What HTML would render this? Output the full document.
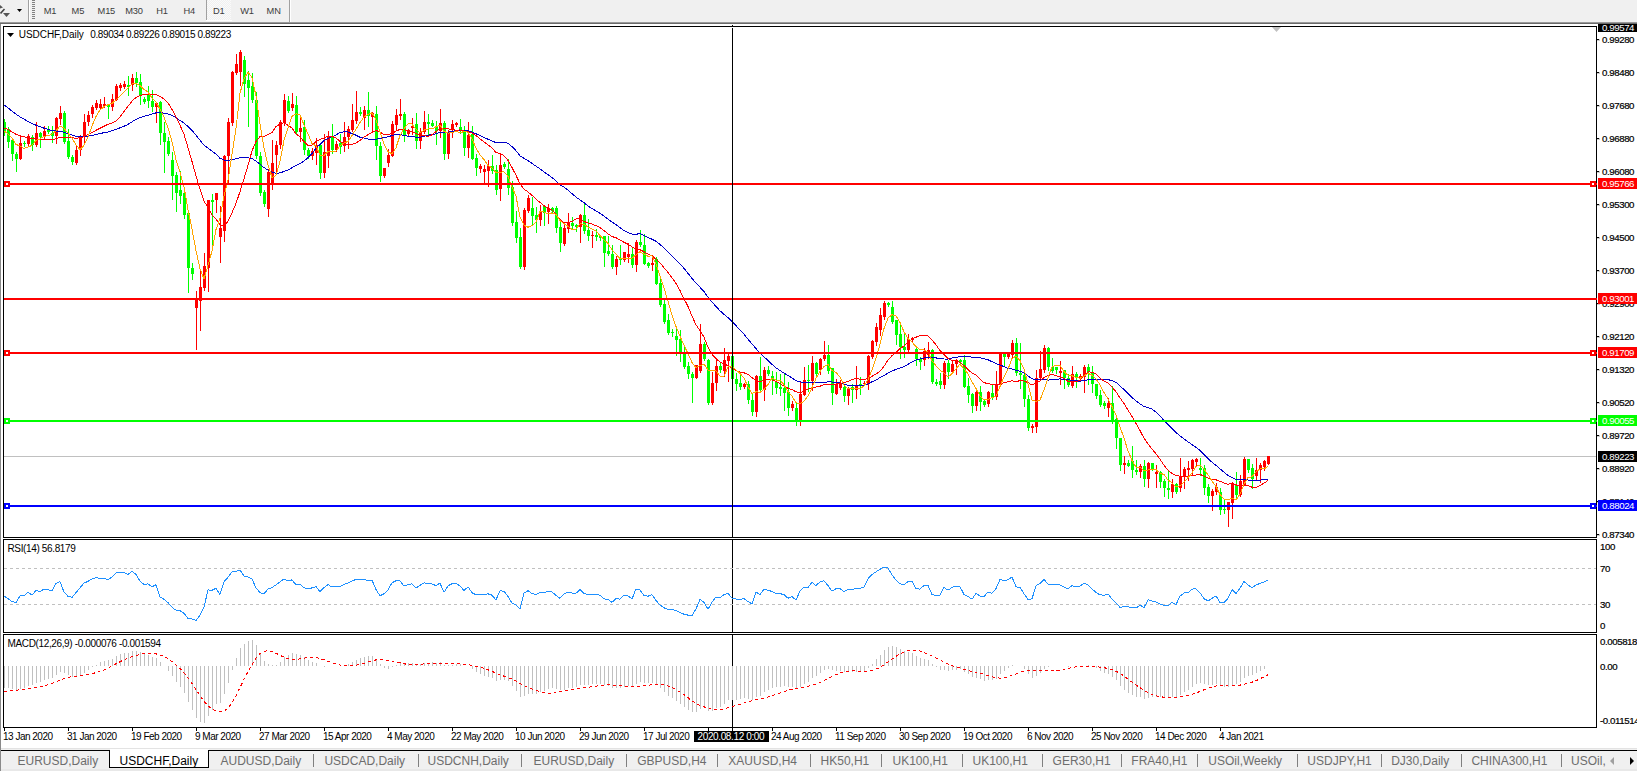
<!DOCTYPE html><html><head><meta charset="utf-8"><style>
html,body{margin:0;padding:0}
body{width:1637px;height:771px;overflow:hidden;background:#fff;position:relative;font-family:"Liberation Sans", sans-serif}
svg{position:absolute;left:0;top:0}
</style></head><body>
<svg width="1637" height="771" viewBox="0 0 1637 771" shape-rendering="crispEdges" font-family='"Liberation Sans", sans-serif'>
<defs>
<clipPath id="cm"><rect x="4" y="27" width="1592" height="510"/></clipPath>
<clipPath id="cr"><rect x="4" y="540" width="1592" height="92"/></clipPath>
<clipPath id="cd"><rect x="4" y="635" width="1592" height="92"/></clipPath>
<clipPath id="ctop"><rect x="0" y="24" width="1637" height="747"/></clipPath>
<pattern id="dots" width="2" height="2" patternUnits="userSpaceOnUse"><rect width="2" height="2" fill="#f0f0f0"/><rect width="1" height="1" fill="#fafafa"/><rect x="1" y="1" width="1" height="1" fill="#fafafa"/></pattern>
</defs>

<rect x="0" y="0" width="1637" height="22" fill="#f0f0f0"/>
<rect x="0" y="22" width="1637" height="1" fill="#9a9a9a"/><rect x="0" y="23" width="1637" height="1" fill="#6a6a6a"/>
<g shape-rendering="auto"><path d="M0 5 L3 7.5 L0 8.5Z" fill="#555"/><path d="M0.5 13.5 L4.5 9" stroke="#444" stroke-width="1.6" fill="none"/><path d="M3 13 L10 13 L6.5 17Z" fill="#555"/><path d="M17 9 L22 9 L19.5 12Z" fill="#000"/></g>
<rect x="28" y="0" width="1" height="22" fill="#a0a0a0"/><rect x="29" y="0" width="1" height="22" fill="#ffffff"/>
<rect x="32" y="0" width="3" height="1" fill="#808080"/>
<rect x="32" y="2" width="3" height="1" fill="#808080"/>
<rect x="32" y="4" width="3" height="1" fill="#808080"/>
<rect x="32" y="6" width="3" height="1" fill="#808080"/>
<rect x="32" y="8" width="3" height="1" fill="#808080"/>
<rect x="32" y="10" width="3" height="1" fill="#808080"/>
<rect x="32" y="12" width="3" height="1" fill="#808080"/>
<rect x="32" y="14" width="3" height="1" fill="#808080"/>
<rect x="32" y="16" width="3" height="1" fill="#808080"/>
<rect x="32" y="18" width="3" height="1" fill="#808080"/>
<rect x="206" y="0" width="25" height="20" fill="url(#dots)"/><rect x="206" y="0" width="1" height="20" fill="#a0a0a0"/><rect x="206" y="20" width="26" height="1" fill="#fff"/>
<rect x="289" y="0" width="1" height="22" fill="#a0a0a0"/><rect x="290" y="0" width="1" height="22" fill="#fff"/>
<g font-size="9.3" fill="#3c3c3c" letter-spacing="-0.2" shape-rendering="auto">
<text x="43.8" y="14">M1</text>
<text x="71.6" y="14">M5</text>
<text x="97.6" y="14">M15</text>
<text x="125.3" y="14">M30</text>
<text x="156.20000000000002" y="14">H1</text>
<text x="183.60000000000002" y="14">H4</text>
<text x="212.9" y="14">D1</text>
<text x="240.3" y="14">W1</text>
<text x="266.6" y="14">MN</text>
</g>
<rect x="0" y="24" width="1" height="724" fill="#8a8a8a"/>
<rect x="3" y="26" width="1594" height="1" fill="#000"/>
<rect x="3" y="537" width="1594" height="1" fill="#000"/>
<rect x="3" y="26" width="1" height="512" fill="#000"/>
<rect x="1596" y="26" width="1" height="512" fill="#000"/>
<rect x="3" y="539" width="1594" height="1" fill="#000"/>
<rect x="3" y="632" width="1594" height="1" fill="#000"/>
<rect x="3" y="539" width="1" height="94" fill="#000"/>
<rect x="1596" y="539" width="1" height="94" fill="#000"/>
<rect x="3" y="634" width="1594" height="1" fill="#000"/>
<rect x="3" y="727" width="1594" height="1" fill="#000"/>
<rect x="3" y="634" width="1" height="94" fill="#000"/>
<rect x="1596" y="634" width="1" height="94" fill="#000"/>
<g clip-path="url(#cm)">
<rect x="4" y="456" width="1592" height="1" fill="#c0c0c0"/>
<path d="M20.5 136V160M28.5 134V146M36.5 122V147M44.5 126V140M56.5 117V144M60.5 106V125M76.5 146V165M80.5 135V156M84.5 114V145M88.5 111V126M92.5 105V118M96.5 100V110M100.5 99V110M104.5 97V108M112.5 94V111M116.5 84V101M120.5 83V91M124.5 81V89M132.5 74V91M156.5 102V123M196.5 291V350M200.5 269V331M204.5 253V291M208.5 200V292M216.5 193V213M220.5 206V263M224.5 155V242M228.5 118V184M232.5 71V126M236.5 54V75M240.5 50V86M268.5 169V217M272.5 140V190M276.5 141V174M280.5 120V149M284.5 94V126M292.5 93V111M300.5 117V142M312.5 148V160M316.5 138V165M324.5 134V178M328.5 131V168M336.5 141V152M344.5 122V152M348.5 126V149M352.5 104V132M356.5 91V124M364.5 106V130M372.5 112V131M384.5 168V178M388.5 149V167M392.5 121V157M396.5 109V130M400.5 99V120M408.5 129V136M412.5 118V135M420.5 128V149M424.5 111V134M440.5 109V138M448.5 130V159M452.5 120V138M456.5 122V127M468.5 122V158M480.5 164V173M484.5 165V184M488.5 160V187M500.5 153V201M524.5 208V270M528.5 195V213M540.5 205V226M548.5 204V224M564.5 224V246M568.5 213V233M580.5 214V243M592.5 231V248M616.5 256V275M624.5 252V262M628.5 243V263M636.5 240V272M652.5 255V271M696.5 365V379M700.5 324V373M712.5 372V405M716.5 359V391M724.5 348V377M728.5 354V382M744.5 383V389M756.5 375V417M764.5 367V401M792.5 401V411M800.5 382V426M804.5 367V396M812.5 356V391M820.5 358V375M824.5 341V361M836.5 379V395M840.5 380V390M848.5 387V405M856.5 366V399M864.5 381V386M868.5 355V390M872.5 340V359M876.5 323V346M880.5 308V336M884.5 301V320M908.5 334V352M912.5 337V342M924.5 348V366M928.5 342V359M944.5 361V389M952.5 360V374M956.5 359V375M976.5 390V411M988.5 391V407M996.5 371V400M1000.5 353V386M1008.5 354V359M1012.5 340V358M1032.5 424V433M1036.5 370V433M1040.5 351V381M1044.5 345V373M1060.5 361V385M1072.5 366V388M1080.5 374V381M1084.5 365V393M1108.5 398V417M1124.5 456V474M1140.5 464V478M1148.5 462V488M1156.5 465V488M1172.5 479V498M1180.5 458V492M1184.5 467V489M1188.5 461V481M1192.5 459V476M1196.5 458V467M1212.5 489V511M1216.5 483V495M1228.5 502V527M1232.5 482V519M1240.5 475V497M1244.5 457V486M1256.5 458V481M1260.5 463V483M1264.5 460V471M1268.5 456V465" stroke="#ff0000" stroke-width="1" fill="none"/><path d="M19 143h3v16h-3zM27 136h3v8h-3zM35 133h3v12h-3zM43 131h3v6h-3zM55 118h3v18h-3zM59 113h3v6h-3zM75 150h3v13h-3zM79 136h3v14h-3zM83 122h3v14h-3zM87 115h3v7h-3zM91 107h3v7h-3zM95 103h3v5h-3zM99 104h3v4h-3zM103 104h3v2h-3zM111 99h3v8h-3zM115 86h3v14h-3zM119 85h3v3h-3zM123 84h3v3h-3zM131 78h3v7h-3zM155 103h3v4h-3zM195 300h3v8h-3zM199 287h3v14h-3zM203 266h3v22h-3zM207 200h3v68h-3zM215 193h3v7h-3zM219 228h3v9h-3zM223 156h3v75h-3zM227 122h3v34h-3zM231 72h3v51h-3zM235 64h3v9h-3zM239 52h3v20h-3zM267 172h3v37h-3zM271 163h3v22h-3zM275 145h3v10h-3zM279 122h3v23h-3zM283 100h3v23h-3zM291 104h3v4h-3zM299 128h3v4h-3zM311 151h3v5h-3zM315 145h3v8h-3zM323 152h3v21h-3zM327 136h3v20h-3zM335 144h3v6h-3zM343 137h3v9h-3zM347 129h3v8h-3zM351 120h3v10h-3zM355 112h3v9h-3zM363 110h3v8h-3zM371 113h3v4h-3zM383 168h3v8h-3zM387 155h3v8h-3zM391 124h3v32h-3zM395 115h3v10h-3zM399 114h3v2h-3zM407 130h3v4h-3zM411 126h3v2h-3zM419 132h3v9h-3zM423 122h3v10h-3zM439 123h3v8h-3zM447 132h3v22h-3zM451 124h3v5h-3zM455 123h3v2h-3zM467 135h3v13h-3zM479 166h3v3h-3zM483 169h3v3h-3zM487 166h3v5h-3zM499 165h3v24h-3zM523 210h3v57h-3zM527 198h3v13h-3zM539 212h3v8h-3zM547 208h3v4h-3zM563 228h3v16h-3zM567 222h3v7h-3zM579 215h3v12h-3zM591 235h3v1h-3zM615 259h3v8h-3zM623 252h3v8h-3zM627 254h3v3h-3zM635 242h3v23h-3zM651 263h3v2h-3zM695 365h3v13h-3zM699 344h3v27h-3zM711 383h3v20h-3zM715 366h3v17h-3zM723 360h3v11h-3zM727 356h3v5h-3zM743 384h3v3h-3zM755 376h3v36h-3zM763 370h3v20h-3zM791 404h3v4h-3zM799 394h3v26h-3zM803 380h3v15h-3zM811 363h3v18h-3zM819 359h3v11h-3zM823 355h3v4h-3zM835 384h3v10h-3zM839 383h3v5h-3zM847 388h3v8h-3zM855 385h3v5h-3zM863 383h3v1h-3zM867 356h3v28h-3zM871 341h3v16h-3zM875 327h3v15h-3zM879 315h3v15h-3zM883 303h3v14h-3zM907 339h3v11h-3zM911 338h3v2h-3zM923 351h3v9h-3zM927 350h3v5h-3zM943 363h3v22h-3zM951 364h3v8h-3zM955 360h3v4h-3zM975 392h3v14h-3zM987 392h3v12h-3zM995 385h3v12h-3zM999 354h3v31h-3zM1007 354h3v3h-3zM1011 343h3v12h-3zM1031 426h3v2h-3zM1035 378h3v49h-3zM1039 369h3v9h-3zM1043 348h3v22h-3zM1059 371h3v2h-3zM1071 374h3v12h-3zM1079 376h3v2h-3zM1083 367h3v10h-3zM1107 403h3v5h-3zM1123 463h3v2h-3zM1139 466h3v6h-3zM1147 463h3v16h-3zM1155 472h3v2h-3zM1171 484h3v8h-3zM1179 476h3v12h-3zM1183 469h3v7h-3zM1187 468h3v2h-3zM1191 460h3v9h-3zM1195 459h3v3h-3zM1211 491h3v5h-3zM1215 487h3v5h-3zM1227 502h3v8h-3zM1231 483h3v20h-3zM1239 481h3v14h-3zM1243 459h3v26h-3zM1255 470h3v6h-3zM1259 465h3v5h-3zM1263 461h3v6h-3zM1267 456h3v8h-3z" fill="#ff0000"/><path d="M4.5 119V136M8.5 127V148M12.5 139V161M16.5 152V172M24.5 141V147M32.5 135V151M40.5 132V148M48.5 126V134M52.5 126V143M64.5 111V144M68.5 129V159M72.5 155V165M108.5 104V119M128.5 76V96M136.5 72V87M140.5 74V105M144.5 97V104M148.5 86V108M152.5 90V112M160.5 101V145M164.5 122V173M168.5 137V156M172.5 152V200M176.5 172V212M180.5 171V204M184.5 188V219M188.5 213V293M192.5 263V280M212.5 194V249M244.5 56V97M248.5 71V127M252.5 73V103M256.5 92V159M260.5 152V196M264.5 190V207M288.5 96V113M296.5 96V134M304.5 120V155M308.5 148V159M320.5 144V179M332.5 124V154M340.5 134V154M360.5 107V116M368.5 92V127M376.5 106V160M380.5 142V182M404.5 112V142M416.5 113V149M428.5 114V137M432.5 120V127M436.5 121V145M444.5 121V160M460.5 119V134M464.5 126V156M472.5 126V160M476.5 154V176M492.5 155V174M496.5 165V195M504.5 162V169M508.5 159V195M512.5 181V226M516.5 211V243M520.5 228V269M532.5 197V225M536.5 207V233M544.5 205V226M552.5 207V213M556.5 206V233M560.5 222V252M572.5 217V230M576.5 224V232M584.5 203V234M588.5 219V241M596.5 229V241M600.5 236V241M604.5 236V267M608.5 236V256M612.5 245V269M620.5 245V265M632.5 248V268M640.5 230V247M644.5 234V265M648.5 262V268M656.5 257V285M660.5 278V307M664.5 300V324M668.5 314V335M672.5 329V337M676.5 329V356M680.5 330V362M684.5 345V369M688.5 362V379M692.5 372V403M704.5 342V361M708.5 359V405M720.5 362V373M732.5 355V381M736.5 373V391M740.5 373V390M748.5 381V404M752.5 394V416M760.5 357V391M768.5 366V376M772.5 371V395M776.5 372V394M780.5 374V396M784.5 374V411M788.5 382V416M796.5 403V426M808.5 365V392M816.5 362V376M828.5 345V374M832.5 368V405M844.5 384V402M852.5 384V403M860.5 377V395M888.5 302V307M892.5 301V324M896.5 320V345M900.5 324V359M904.5 332V358M916.5 348V366M920.5 357V370M932.5 349V384M936.5 379V386M940.5 373V389M948.5 360V379M960.5 359V364M964.5 355V388M968.5 378V403M972.5 393V413M980.5 386V411M984.5 399V407M992.5 385V400M1004.5 353V366M1016.5 338V376M1020.5 343V389M1024.5 370V407M1028.5 395V431M1048.5 347V371M1052.5 358V373M1056.5 367V374M1064.5 370V389M1068.5 374V387M1076.5 372V388M1088.5 364V385M1092.5 366V393M1096.5 384V399M1100.5 390V407M1104.5 401V409M1112.5 386V424M1116.5 418V449M1120.5 438V471M1128.5 460V467M1132.5 446V478M1136.5 460V475M1144.5 460V487M1152.5 463V471M1160.5 471V488M1164.5 479V497M1168.5 470V499M1176.5 483V494M1200.5 458V476M1204.5 465V495M1208.5 484V503M1220.5 488V515M1224.5 500V514M1236.5 472V500M1248.5 459V473M1252.5 464V489" stroke="#00ff00" stroke-width="1" fill="none"/><path d="M3 122h3v10h-3zM7 129h3v13h-3zM11 140h3v14h-3zM15 154h3v5h-3zM23 143h3v1h-3zM31 137h3v8h-3zM39 133h3v4h-3zM47 130h3v2h-3zM51 133h3v3h-3zM63 113h3v29h-3zM67 141h3v16h-3zM71 157h3v5h-3zM107 104h3v3h-3zM127 85h3v2h-3zM135 78h3v5h-3zM139 82h3v14h-3zM143 99h3v3h-3zM147 94h3v7h-3zM151 101h3v6h-3zM159 102h3v31h-3zM163 133h3v9h-3zM167 141h3v13h-3zM171 160h3v16h-3zM175 175h3v18h-3zM179 190h3v6h-3zM183 193h3v22h-3zM187 213h3v55h-3zM191 268h3v6h-3zM211 200h3v2h-3zM243 60h3v24h-3zM247 80h3v8h-3zM251 86h3v14h-3zM255 100h3v56h-3zM259 156h3v37h-3zM263 192h3v12h-3zM287 101h3v10h-3zM295 105h3v27h-3zM303 127h3v23h-3zM307 150h3v6h-3zM319 145h3v28h-3zM331 136h3v14h-3zM339 143h3v4h-3zM359 112h3v2h-3zM367 110h3v6h-3zM375 114h3v32h-3zM379 146h3v30h-3zM403 114h3v21h-3zM415 124h3v17h-3zM427 122h3v2h-3zM431 123h3v3h-3zM435 126h3v5h-3zM443 123h3v31h-3zM459 127h3v4h-3zM463 131h3v17h-3zM471 134h3v25h-3zM475 158h3v10h-3zM491 166h3v5h-3zM495 170h3v20h-3zM503 164h3v3h-3zM507 169h3v19h-3zM511 187h3v36h-3zM515 222h3v16h-3zM519 237h3v30h-3zM531 208h3v8h-3zM535 215h3v5h-3zM543 206h3v7h-3zM551 208h3v3h-3zM555 208h3v20h-3zM559 227h3v16h-3zM571 223h3v3h-3zM575 225h3v2h-3zM583 215h3v16h-3zM587 230h3v6h-3zM595 235h3v2h-3zM599 236h3v2h-3zM603 236h3v17h-3zM607 251h3v3h-3zM611 254h3v13h-3zM619 259h3v1h-3zM631 254h3v11h-3zM639 242h3v3h-3zM643 245h3v19h-3zM647 263h3v3h-3zM655 259h3v25h-3zM659 283h3v22h-3zM663 304h3v18h-3zM667 320h3v13h-3zM671 332h3v1h-3zM675 336h3v4h-3zM679 339h3v15h-3zM683 354h3v13h-3zM687 366h3v8h-3zM691 374h3v4h-3zM703 344h3v15h-3zM707 360h3v43h-3zM719 366h3v4h-3zM731 356h3v23h-3zM735 379h3v5h-3zM739 383h3v4h-3zM747 384h3v16h-3zM751 400h3v12h-3zM759 376h3v14h-3zM767 370h3v4h-3zM771 376h3v4h-3zM775 382h3v6h-3zM779 387h3v2h-3zM783 388h3v5h-3zM787 392h3v16h-3zM795 408h3v12h-3zM807 380h3v1h-3zM815 363h3v11h-3zM827 355h3v16h-3zM831 368h3v25h-3zM843 387h3v9h-3zM851 387h3v3h-3zM859 384h3v1h-3zM887 303h3v2h-3zM891 307h3v15h-3zM895 320h3v15h-3zM899 334h3v13h-3zM903 347h3v3h-3zM915 349h3v10h-3zM919 359h3v3h-3zM931 350h3v32h-3zM935 382h3v2h-3zM939 381h3v4h-3zM947 363h3v9h-3zM959 360h3v2h-3zM963 360h3v27h-3zM967 386h3v9h-3zM971 394h3v12h-3zM979 392h3v10h-3zM983 401h3v4h-3zM991 393h3v4h-3zM1003 354h3v3h-3zM1015 343h3v30h-3zM1019 373h3v2h-3zM1023 375h3v24h-3zM1027 399h3v29h-3zM1047 348h3v19h-3zM1051 367h3v4h-3zM1055 367h3v3h-3zM1063 370h3v8h-3zM1067 378h3v7h-3zM1075 374h3v4h-3zM1087 367h3v5h-3zM1091 372h3v12h-3zM1095 384h3v12h-3zM1099 395h3v10h-3zM1103 403h3v3h-3zM1111 403h3v19h-3zM1115 419h3v19h-3zM1119 438h3v27h-3zM1127 463h3v3h-3zM1131 461h3v9h-3zM1135 470h3v2h-3zM1143 466h3v13h-3zM1151 463h3v6h-3zM1159 472h3v10h-3zM1163 481h3v7h-3zM1167 488h3v2h-3zM1175 484h3v8h-3zM1199 468h3v2h-3zM1203 468h3v20h-3zM1207 487h3v9h-3zM1219 492h3v18h-3zM1223 509h3v1h-3zM1235 485h3v10h-3zM1247 459h3v11h-3zM1251 468h3v11h-3z" fill="#00ff00"/>
<polyline points="4,105.0 8,107.8 12,111.1 16,114.2 20,116.9 24,119.2 28,121.4 32,123.4 36,125.2 40,126.7 44,128.2 48,129.3 52,130.7 56,131.0 60,131.3 64,132.2 68,133.8 72,135.1 76,136.3 80,136.5 84,136.6 88,136.0 92,135.4 96,134.4 100,133.7 104,132.6 108,132.0 112,130.8 116,129.4 120,127.8 124,126.2 128,124.4 132,121.8 136,119.3 140,117.7 144,116.3 148,115.2 152,113.9 156,112.9 160,112.8 164,113.1 168,113.9 172,115.2 176,117.7 180,120.5 184,122.9 188,126.6 192,130.3 196,135.3 200,140.3 204,145.2 208,148.0 212,151.2 216,154.2 220,158.3 224,160.0 228,160.5 232,159.6 236,158.9 240,157.8 244,157.8 248,157.8 252,158.6 256,161.0 260,164.2 264,167.6 268,170.0 272,171.9 276,173.3 280,172.9 284,171.5 288,170.1 292,167.7 296,165.6 300,163.4 304,161.2 308,157.5 312,153.4 316,148.2 320,144.4 324,140.6 328,138.5 332,136.7 336,135.1 340,132.4 344,131.8 348,132.0 352,133.6 356,135.2 360,137.3 364,138.1 368,139.1 372,139.5 376,139.2 380,138.6 384,137.4 388,136.8 392,135.5 396,134.5 400,134.3 404,135.5 408,136.1 412,136.8 416,137.1 420,137.3 424,136.3 428,135.3 432,134.4 436,133.9 440,132.3 444,132.3 448,132.2 452,131.3 456,130.6 460,130.1 464,130.4 468,130.6 472,131.9 476,133.8 480,135.5 484,137.5 488,139.2 492,141.1 496,142.6 500,142.2 504,142.2 508,143.3 512,146.6 516,150.7 520,155.8 524,158.3 528,160.5 532,163.5 536,166.2 540,168.8 544,171.9 548,174.7 552,177.5 556,180.8 560,184.8 564,187.2 568,190.2 572,193.6 576,197.1 580,199.9 584,202.7 588,206.1 592,208.6 596,210.9 600,213.3 604,216.1 608,219.1 612,222.2 616,224.5 620,227.7 624,230.5 628,232.7 632,234.1 636,234.3 640,233.5 644,235.3 648,237.6 652,239.2 656,241.3 660,244.4 664,248.0 668,252.2 672,256.2 676,260.0 680,263.7 684,268.3 688,273.4 692,278.4 696,283.0 700,287.3 704,291.6 708,297.2 712,302.1 716,306.4 720,310.8 724,314.4 728,317.7 732,321.5 736,325.7 740,329.9 744,334.3 748,339.1 752,344.0 756,348.5 760,353.3 764,356.9 768,360.5 772,364.4 776,367.8 780,370.6 784,373.0 788,375.5 792,377.9 796,380.6 800,381.9 804,382.3 808,382.6 812,382.1 816,382.4 820,382.8 824,382.7 828,381.7 832,382.0 836,382.6 840,383.0 844,384.2 848,385.3 852,385.6 856,385.7 860,385.6 864,385.5 868,384.1 872,381.7 876,380.1 880,377.6 884,375.4 888,373.1 892,371.1 896,369.4 900,368.0 904,366.6 908,364.3 912,362.1 916,360.1 920,359.0 924,358.0 928,357.0 932,357.6 936,357.9 940,358.8 944,359.0 948,359.1 952,358.1 956,357.3 960,356.6 964,356.3 968,356.5 972,357.1 976,357.3 980,357.9 984,358.6 988,359.8 992,361.7 996,363.6 1000,364.9 1004,366.7 1008,368.3 1012,369.0 1016,370.3 1020,371.2 1024,372.9 1028,375.9 1032,378.8 1036,379.4 1040,379.6 1044,379.6 1048,380.1 1052,379.8 1056,379.3 1060,378.9 1064,379.4 1068,379.8 1072,380.2 1076,380.7 1080,381.2 1084,380.5 1088,379.8 1092,379.0 1096,379.2 1100,379.3 1104,379.3 1108,379.7 1112,380.5 1116,382.3 1120,386.0 1124,389.5 1128,393.3 1132,397.5 1136,400.8 1140,403.8 1144,406.5 1148,407.6 1152,409.1 1156,412.2 1160,415.9 1164,420.6 1168,424.7 1172,428.4 1176,432.5 1180,436.0 1184,439.0 1188,441.8 1192,444.6 1196,447.3 1200,450.5 1204,454.5 1208,458.7 1212,462.2 1216,465.3 1220,468.8 1224,472.2 1228,475.5 1232,477.6 1236,479.4 1240,480.0 1244,479.9 1248,480.0 1252,480.3 1256,480.2 1260,480.2 1264,479.6 1268,479.4" fill="none" stroke="#0000c8" stroke-width="1"/><polyline points="4,128.0 8,129.4 12,132.1 16,134.3 20,135.9 24,136.8 28,137.7 32,138.4 36,139.0 40,139.1 44,139.4 48,139.2 52,140.0 56,138.7 60,137.4 64,137.4 68,137.6 72,137.8 76,138.3 80,137.7 84,136.7 88,134.6 92,132.7 96,130.3 100,128.3 104,126.3 108,124.2 112,122.9 116,120.9 120,116.9 124,111.6 128,106.3 132,101.2 136,97.4 140,95.5 144,94.6 148,94.2 152,94.5 156,94.5 160,96.5 164,99.0 168,103.0 172,109.4 176,117.1 180,125.1 184,134.2 188,147.8 192,161.4 196,176.0 200,189.2 204,201.0 208,207.6 212,214.7 216,219.0 220,225.1 224,225.3 228,221.4 232,212.8 236,203.4 240,191.7 244,178.6 248,165.3 252,151.0 256,141.6 260,136.4 264,136.7 268,134.6 272,132.4 276,126.5 280,124.1 284,122.5 288,125.3 292,128.1 296,133.9 300,137.0 304,141.4 308,145.4 312,145.1 316,141.6 320,139.4 324,138.0 328,136.1 332,136.4 336,138.0 340,141.4 344,143.2 348,145.0 352,144.2 356,143.1 360,140.4 364,137.2 368,134.6 372,132.3 376,130.4 380,132.1 384,134.4 388,134.8 392,133.4 396,131.1 400,129.4 404,129.9 408,130.6 412,131.6 416,133.5 420,135.1 424,135.6 428,136.3 432,134.8 436,131.6 440,128.4 444,128.3 448,128.9 452,129.5 456,130.2 460,129.9 464,131.1 468,131.8 472,133.0 476,135.6 480,138.8 484,142.0 488,144.9 492,147.7 496,152.6 500,153.3 504,155.8 508,160.4 512,167.6 516,175.2 520,183.8 524,189.1 528,191.9 532,195.3 536,199.2 540,202.3 544,205.7 548,208.3 552,209.8 556,214.3 560,219.7 564,222.5 568,222.4 572,221.6 576,218.8 580,219.1 584,221.5 588,222.9 592,224.0 596,225.7 600,227.5 604,230.7 608,233.8 612,236.6 616,237.7 620,240.1 624,242.2 628,244.2 632,246.9 636,248.8 640,249.8 644,251.8 648,254.0 652,255.9 656,259.1 660,262.9 664,267.7 668,272.4 672,277.7 676,283.4 680,290.6 684,298.7 688,306.4 692,316.2 696,324.8 700,330.5 704,337.2 708,347.2 712,354.2 716,358.6 720,362.0 724,364.0 728,365.6 732,368.5 736,370.6 740,372.1 744,372.8 748,374.3 752,377.7 756,380.0 760,382.1 764,379.8 768,379.2 772,380.1 776,381.4 780,383.5 784,386.1 788,388.2 792,389.6 796,391.9 800,392.6 804,391.2 808,389.0 812,388.1 816,386.9 820,386.2 824,384.8 828,384.2 832,384.6 836,384.2 840,383.5 844,382.6 848,381.5 852,379.4 856,378.7 860,379.1 864,379.2 868,378.7 872,376.3 876,374.0 880,371.2 884,366.3 888,360.1 892,355.6 896,352.2 900,348.7 904,346.0 908,342.4 912,339.0 916,337.2 920,335.7 924,335.3 928,336.0 932,339.9 936,344.8 940,350.6 944,354.7 948,358.3 952,360.4 956,361.3 960,362.2 964,365.6 968,369.7 972,373.0 976,375.2 980,378.8 984,382.7 988,383.5 992,384.4 996,384.4 1000,383.8 1004,382.6 1008,381.9 1012,380.8 1016,381.5 1020,380.7 1024,381.0 1028,382.6 1032,385.0 1036,383.3 1040,380.8 1044,377.6 1048,375.5 1052,374.5 1056,375.7 1060,376.7 1064,378.4 1068,381.4 1072,381.5 1076,381.7 1080,380.0 1084,375.6 1088,371.8 1092,372.2 1096,374.1 1100,378.2 1104,381.0 1108,383.2 1112,387.0 1116,391.8 1120,397.9 1124,403.5 1128,410.0 1132,416.6 1136,423.5 1140,430.6 1144,438.2 1148,443.9 1152,449.1 1156,453.8 1160,459.3 1164,465.3 1168,470.1 1172,473.4 1176,475.3 1180,476.2 1184,476.5 1188,476.3 1192,475.5 1196,475.0 1200,474.3 1204,476.1 1208,478.1 1212,479.5 1216,479.8 1220,481.4 1224,482.9 1228,484.2 1232,483.5 1236,484.9 1240,485.8 1244,485.1 1248,485.8 1252,487.2 1256,487.3 1260,485.7 1264,483.1 1268,480.6" fill="none" stroke="#ff0000" stroke-width="1"/><polyline points="4,130.8 8,134.0 12,137.7 16,144.4 20,146.0 24,148.4 28,147.2 32,145.3 36,140.2 40,138.9 44,136.3 48,135.7 52,134.0 56,130.8 60,126.0 64,128.2 68,133.2 72,138.3 76,144.8 80,149.5 84,145.4 88,137.0 92,126.0 96,116.5 100,110.0 104,106.6 108,104.8 112,103.3 116,99.9 120,96.1 124,92.1 128,88.2 132,84.0 136,83.5 140,85.7 144,89.3 148,92.1 152,97.9 156,101.8 160,109.3 164,117.3 168,127.8 172,141.6 176,159.6 180,172.2 184,186.8 188,209.6 192,229.2 196,250.6 200,268.8 204,279.0 208,265.4 212,251.0 216,229.6 220,217.8 224,195.8 228,180.2 232,154.2 236,128.4 240,93.2 244,78.8 248,72.0 252,77.6 256,96.0 260,124.2 264,148.2 268,165.0 272,177.6 276,175.4 280,161.2 284,140.4 288,128.2 292,116.4 296,113.8 300,115.0 304,125.0 308,133.9 312,143.4 316,146.0 320,155.0 324,155.4 328,151.5 332,151.2 336,151.1 340,145.9 344,142.9 348,141.5 352,135.5 356,129.1 360,122.4 364,117.0 368,114.3 372,112.8 376,119.7 380,132.1 384,143.8 388,151.7 392,153.9 396,147.7 400,135.4 404,128.7 408,123.7 412,124.0 416,129.3 420,132.8 424,130.2 428,128.9 432,128.9 436,126.8 440,124.9 444,131.4 448,133.1 452,132.8 456,131.3 460,132.8 464,131.5 468,132.2 472,139.0 476,148.0 480,155.1 484,159.4 488,165.5 492,168.0 496,172.5 500,172.2 504,171.8 508,176.4 512,186.8 516,196.3 520,216.7 524,225.2 528,227.2 532,225.7 536,222.2 540,211.3 544,211.9 548,213.8 552,212.9 556,214.5 560,220.6 564,223.6 568,226.4 572,229.4 576,229.3 580,223.7 584,224.3 588,227.1 592,228.9 596,230.8 600,235.5 604,239.8 608,243.5 612,249.8 616,254.2 620,258.6 624,258.5 628,258.5 632,258.2 636,254.8 640,251.7 644,254.0 648,256.3 652,255.8 656,264.3 660,276.3 664,287.9 668,301.3 672,315.3 676,326.5 680,336.2 684,345.2 688,353.5 692,362.5 696,367.6 700,365.7 704,364.2 708,369.9 712,370.9 716,371.0 720,376.2 724,376.3 728,367.0 732,366.3 736,369.9 740,373.3 744,378.1 748,386.9 752,393.4 756,391.8 760,392.3 764,389.5 768,384.4 772,377.9 776,380.2 780,380.1 784,384.7 788,391.5 792,396.3 796,402.7 800,403.8 804,401.2 808,395.8 812,387.6 816,378.4 820,371.4 824,366.5 828,364.5 832,370.4 836,372.4 840,377.2 844,385.3 848,388.8 852,388.2 856,388.4 860,388.7 864,386.1 868,379.7 872,369.9 876,358.4 880,344.4 884,328.5 888,318.2 892,314.5 896,316.0 900,322.4 904,331.8 908,338.6 912,341.9 916,346.7 920,349.7 924,349.8 928,352.0 932,360.7 936,365.7 940,370.2 944,372.7 948,377.1 952,373.6 956,368.7 960,364.2 964,369.1 968,373.6 972,382.0 976,388.4 980,396.3 984,399.9 988,399.4 992,397.6 996,396.2 1000,386.5 1004,376.8 1008,369.2 1012,358.5 1016,356.2 1020,360.5 1024,369.1 1028,383.8 1032,400.3 1036,401.3 1040,400.1 1044,389.8 1048,377.7 1052,366.8 1056,365.1 1060,365.5 1064,371.6 1068,375.2 1072,375.8 1076,377.4 1080,378.3 1084,376.0 1088,373.3 1092,375.2 1096,378.9 1100,384.7 1104,392.6 1108,398.8 1112,406.5 1116,414.9 1120,426.9 1124,438.2 1128,450.7 1132,460.4 1136,467.1 1140,467.4 1144,470.7 1148,470.0 1152,469.7 1156,469.7 1160,472.9 1164,474.6 1168,480.0 1172,483.0 1176,487.0 1180,485.8 1184,482.0 1188,477.7 1192,473.0 1196,466.4 1200,465.2 1204,469.1 1208,474.8 1212,481.0 1216,486.4 1220,494.5 1224,498.9 1228,500.0 1232,498.3 1236,500.0 1240,494.2 1244,484.1 1248,477.6 1252,476.8 1256,471.9 1260,468.8 1264,469.0 1268,466.2" fill="none" stroke="#ffa500" stroke-width="1"/>
<rect x="4" y="183" width="1593" height="2" fill="#ff0000"/>
<rect x="4" y="298" width="1593" height="2" fill="#ff0000"/>
<rect x="4" y="352" width="1593" height="2" fill="#ff0000"/>
<rect x="4" y="420" width="1593" height="2" fill="#00ff00"/>
<rect x="4" y="505" width="1593" height="2" fill="#0000ff"/>
</g>
<rect x="1596" y="183" width="1" height="2" fill="#ff0000"/>
<rect x="4" y="181" width="6" height="6" fill="#ff0000"/><rect x="6" y="183" width="2" height="2" fill="#fff"/>
<rect x="1590" y="181" width="6" height="6" fill="#ff0000"/><rect x="1592" y="183" width="2" height="2" fill="#fff"/>
<rect x="1596" y="298" width="1" height="2" fill="#ff0000"/>
<rect x="1596" y="352" width="1" height="2" fill="#ff0000"/>
<rect x="4" y="350" width="6" height="6" fill="#ff0000"/><rect x="6" y="352" width="2" height="2" fill="#fff"/>
<rect x="1590" y="350" width="6" height="6" fill="#ff0000"/><rect x="1592" y="352" width="2" height="2" fill="#fff"/>
<rect x="1596" y="420" width="1" height="2" fill="#00ff00"/>
<rect x="4" y="418" width="6" height="6" fill="#00ff00"/><rect x="6" y="420" width="2" height="2" fill="#fff"/>
<rect x="1590" y="418" width="6" height="6" fill="#00ff00"/><rect x="1592" y="420" width="2" height="2" fill="#fff"/>
<rect x="1596" y="505" width="1" height="2" fill="#0000ff"/>
<rect x="4" y="503" width="6" height="6" fill="#0000ff"/><rect x="6" y="505" width="2" height="2" fill="#fff"/>
<rect x="1590" y="503" width="6" height="6" fill="#0000ff"/><rect x="1592" y="505" width="2" height="2" fill="#fff"/>
<path d="M1272 27 L1281 27 L1276.5 32Z" fill="#c0c0c0" shape-rendering="auto"/>
<rect x="732" y="25" width="1" height="1" fill="#000"/><rect x="732" y="28" width="1" height="509" fill="#000"/>
<rect x="732" y="539" width="1" height="94" fill="#000"/><rect x="732" y="634" width="1" height="94" fill="#000"/>
<g font-size="9.7" fill="#000" stroke="#000" stroke-width="0.2" shape-rendering="auto" letter-spacing="-0.42">
<rect x="1597" y="39" width="2" height="1" fill="#000" shape-rendering="crispEdges"/>
<text x="1602" y="43">0.99280</text>
<rect x="1597" y="72" width="2" height="1" fill="#000" shape-rendering="crispEdges"/>
<text x="1602" y="76">0.98480</text>
<rect x="1597" y="105" width="2" height="1" fill="#000" shape-rendering="crispEdges"/>
<text x="1602" y="109">0.97680</text>
<rect x="1597" y="138" width="2" height="1" fill="#000" shape-rendering="crispEdges"/>
<text x="1602" y="142">0.96880</text>
<rect x="1597" y="171" width="2" height="1" fill="#000" shape-rendering="crispEdges"/>
<text x="1602" y="175">0.96080</text>
<rect x="1597" y="204" width="2" height="1" fill="#000" shape-rendering="crispEdges"/>
<text x="1602" y="208">0.95300</text>
<rect x="1597" y="237" width="2" height="1" fill="#000" shape-rendering="crispEdges"/>
<text x="1602" y="241">0.94500</text>
<rect x="1597" y="270" width="2" height="1" fill="#000" shape-rendering="crispEdges"/>
<text x="1602" y="274">0.93700</text>
<rect x="1597" y="303" width="2" height="1" fill="#000" shape-rendering="crispEdges"/>
<text x="1602" y="307">0.92900</text>
<rect x="1597" y="336" width="2" height="1" fill="#000" shape-rendering="crispEdges"/>
<text x="1602" y="340">0.92120</text>
<rect x="1597" y="369" width="2" height="1" fill="#000" shape-rendering="crispEdges"/>
<text x="1602" y="373">0.91320</text>
<rect x="1597" y="402" width="2" height="1" fill="#000" shape-rendering="crispEdges"/>
<text x="1602" y="406">0.90520</text>
<rect x="1597" y="435" width="2" height="1" fill="#000" shape-rendering="crispEdges"/>
<text x="1602" y="439">0.89720</text>
<rect x="1597" y="468" width="2" height="1" fill="#000" shape-rendering="crispEdges"/>
<text x="1602" y="472">0.88920</text>
<rect x="1597" y="501" width="2" height="1" fill="#000" shape-rendering="crispEdges"/>
<text x="1602" y="505">0.88140</text>
<rect x="1597" y="534" width="2" height="1" fill="#000" shape-rendering="crispEdges"/>
<text x="1602" y="538">0.87340</text>
</g>
<g font-size="9.7" shape-rendering="auto" letter-spacing="-0.42">
<rect x="1598" y="178" width="39" height="11" fill="#ff0000" shape-rendering="crispEdges"/>
<text x="1602" y="187" fill="#fff">0.95766</text>
<rect x="1598" y="293" width="39" height="11" fill="#ff0000" shape-rendering="crispEdges"/>
<text x="1602" y="302" fill="#fff">0.93001</text>
<rect x="1598" y="347" width="39" height="11" fill="#ff0000" shape-rendering="crispEdges"/>
<text x="1602" y="356" fill="#fff">0.91709</text>
<rect x="1598" y="415" width="39" height="11" fill="#00ff00" shape-rendering="crispEdges"/>
<text x="1602" y="424" fill="#fff">0.90055</text>
<rect x="1598" y="500" width="39" height="11" fill="#0000ff" shape-rendering="crispEdges"/>
<text x="1602" y="509" fill="#fff">0.88024</text>
<rect x="1598" y="451" width="39" height="11" fill="#000000" shape-rendering="crispEdges"/>
<text x="1602" y="460" fill="#fff">0.89223</text>
<g clip-path="url(#ctop)"><rect x="1598" y="21" width="39" height="11" fill="#000" shape-rendering="crispEdges"/><text x="1602" y="30.5" fill="#fff">0.99574</text></g>
</g>
<path d="M7 33 L14 33 L10.5 37Z" fill="#000" shape-rendering="auto"/>
<text x="18.8" y="38" font-size="10" letter-spacing="-0.05" fill="#000" shape-rendering="auto">USDCHF,Daily</text>
<text x="90.3" y="38" font-size="10" letter-spacing="-0.4" fill="#000" shape-rendering="auto">0.89034 0.89226 0.89015 0.89223</text>
<g clip-path="url(#cr)">
<path d="M4 568.5H1596M4 604.5H1596" stroke="#c0c0c0" stroke-dasharray="3,3" stroke-width="1"/>
<polyline points="4,596.0 8,598.6 12,601.6 16,602.6 20,595.7 24,595.9 28,592.3 32,595.1 36,590.3 40,591.6 44,589.0 48,589.6 52,591.0 56,583.4 60,581.7 64,592.0 68,596.3 72,597.4 76,592.6 80,587.8 84,583.1 88,581.3 92,578.9 96,577.8 100,578.2 104,578.5 108,579.6 112,576.9 116,572.9 120,572.7 124,572.5 128,574.3 132,571.3 136,574.5 140,581.3 144,584.3 148,583.9 152,586.8 156,584.8 160,596.8 164,599.4 168,602.6 172,607.3 176,610.2 180,610.6 184,613.4 188,618.4 192,618.9 196,620.5 200,615.1 204,607.3 208,589.9 212,590.3 216,588.3 220,594.4 224,581.7 228,577.3 232,572.0 236,571.2 240,570.1 244,576.1 248,576.9 252,579.1 256,587.9 260,592.6 264,593.9 268,588.9 272,587.6 276,584.9 280,581.8 284,579.0 288,580.8 292,579.9 296,584.7 300,584.1 304,587.8 308,588.7 312,587.9 316,586.6 320,591.6 324,587.5 328,584.6 332,587.1 336,586.0 340,586.6 344,584.5 348,582.9 352,581.0 356,579.4 360,579.8 364,579.0 368,580.8 372,580.0 376,589.6 380,595.8 384,593.7 388,590.0 392,582.7 396,580.8 400,580.7 404,586.0 408,584.8 412,583.8 416,587.9 420,585.4 424,582.9 428,583.3 432,584.0 436,585.6 440,583.2 444,592.3 448,585.8 452,583.8 456,583.5 460,585.8 464,590.6 468,586.8 472,592.7 476,594.8 480,594.4 484,595.0 488,593.8 492,595.2 496,599.9 500,590.8 504,591.3 508,596.5 512,603.0 516,605.1 520,608.9 524,593.2 528,590.7 532,593.6 536,594.4 540,592.5 544,592.6 548,591.2 552,591.9 556,595.5 560,598.3 564,593.8 568,592.1 572,593.0 576,593.3 580,589.4 584,593.4 588,594.5 592,594.2 596,594.7 600,595.1 604,598.9 608,599.3 612,602.3 616,598.7 620,599.1 624,595.1 628,595.8 632,599.0 636,588.9 640,590.0 644,595.6 648,596.2 652,594.8 656,600.5 660,604.9 664,607.8 668,609.4 672,609.5 676,610.5 680,612.5 684,614.2 688,615.1 692,615.5 696,608.9 700,599.4 704,602.5 708,609.2 712,602.1 716,597.0 720,597.7 724,594.6 728,593.4 732,598.2 736,599.0 740,599.6 744,598.5 748,601.6 752,603.9 756,591.9 760,594.7 764,589.3 768,590.2 772,591.5 776,593.4 780,593.6 784,594.7 788,598.2 792,596.6 796,600.1 800,591.2 804,587.1 808,587.4 812,582.4 816,585.6 820,581.8 824,580.8 828,585.5 832,591.2 836,588.7 840,588.5 844,591.8 848,589.3 852,589.8 856,588.2 860,588.2 864,587.3 868,578.7 872,574.7 876,571.8 880,569.3 884,567.1 888,567.8 892,575.1 896,579.9 900,583.8 904,584.8 908,581.6 912,581.3 916,588.4 920,589.2 924,585.4 928,585.2 932,594.7 936,595.2 940,595.4 944,587.4 948,590.2 952,587.5 956,586.0 960,586.8 964,594.4 968,596.4 972,599.2 976,593.4 980,596.0 984,596.8 988,591.9 992,593.3 996,588.7 1000,579.5 1004,580.6 1008,579.9 1012,577.0 1016,586.8 1020,587.4 1024,593.7 1028,599.5 1032,598.8 1036,585.7 1040,583.6 1044,579.4 1048,584.1 1052,585.0 1056,584.6 1060,585.0 1064,586.9 1068,588.8 1072,585.7 1076,586.6 1080,586.1 1084,583.2 1088,585.0 1092,588.8 1096,592.5 1100,594.8 1104,595.2 1108,593.9 1112,599.0 1116,602.7 1120,607.4 1124,606.4 1128,606.9 1132,607.7 1136,608.0 1140,605.1 1144,607.6 1148,599.7 1152,601.1 1156,601.9 1160,604.2 1164,605.4 1168,605.9 1172,602.4 1176,604.5 1180,596.2 1184,593.0 1188,592.7 1192,589.1 1196,588.8 1200,592.8 1204,598.7 1208,600.9 1212,598.3 1216,596.0 1220,602.4 1224,602.4 1228,598.4 1232,589.7 1236,593.6 1240,588.1 1244,581.4 1248,584.9 1252,587.7 1256,585.0 1260,583.4 1264,582.0 1268,580.3" fill="none" stroke="#1e90ff" stroke-width="1"/>
</g>
<text x="7.5" y="552" font-size="10" letter-spacing="-0.36" fill="#000" shape-rendering="auto">RSI(14) 56.8179</text>
<g font-size="9.7" fill="#000" stroke="#000" stroke-width="0.2" shape-rendering="auto" letter-spacing="-0.42">
<text x="1600" y="550">100</text><text x="1600" y="572">70</text><text x="1600" y="608">30</text><text x="1600" y="629">0</text>
</g>
<g clip-path="url(#cd)">
<path d="M4.5 666V688M8.5 666V688M12.5 666V689M16.5 666V690M20.5 666V689M24.5 666V688M28.5 666V686M32.5 666V685M36.5 666V683M40.5 666V682M44.5 666V680M48.5 666V679M52.5 666V678M56.5 666V675M60.5 666V672M64.5 666V673M68.5 666V675M72.5 666V677M76.5 666V677M80.5 666V676M84.5 666V673M88.5 666V670M92.5 666V667M96.5 665V666M100.5 662V666M104.5 661V666M108.5 660V666M112.5 659V666M116.5 656V666M120.5 654V666M124.5 653V666M128.5 653V666M132.5 651V666M136.5 651V666M140.5 652V666M144.5 654V666M148.5 655V666M152.5 657V666M156.5 658V666M160.5 662V666M168.5 666V671M172.5 666V676M176.5 666V682M180.5 666V687M184.5 666V693M188.5 666V702M192.5 666V710M196.5 666V718M200.5 666V722M204.5 666V723M208.5 666V716M212.5 666V710M216.5 666V704M220.5 666V703M224.5 666V694M228.5 666V683M232.5 666V670M236.5 658V666M240.5 648V666M244.5 644V666M248.5 641V666M252.5 640V666M256.5 645V666M260.5 654V666M264.5 661V666M268.5 664V666M272.5 665V666M276.5 665V666M280.5 662V666M284.5 657V666M288.5 655V666M292.5 653V666M296.5 654V666M300.5 655V666M304.5 657V666M308.5 660V666M312.5 662V666M316.5 663V666M324.5 666V667M348.5 664V666M352.5 662V666M356.5 660V666M360.5 658V666M364.5 657V666M368.5 656V666M372.5 656V666M376.5 659V666M380.5 664V666M384.5 666V668M388.5 666V669M392.5 666V667M396.5 665V666M400.5 663V666M404.5 663V666M408.5 663V666M412.5 663V666M416.5 664V666M420.5 664V666M424.5 663V666M428.5 663V666M432.5 662V666M436.5 663V666M440.5 662V666M444.5 665V666M448.5 665V666M452.5 665V666M456.5 664V666M460.5 664V666M472.5 666V669M476.5 666V672M480.5 666V674M484.5 666V676M488.5 666V677M492.5 666V678M496.5 666V681M500.5 666V680M504.5 666V680M508.5 666V681M512.5 666V686M516.5 666V691M520.5 666V697M524.5 666V696M528.5 666V694M532.5 666V694M536.5 666V694M540.5 666V692M544.5 666V691M548.5 666V689M552.5 666V688M556.5 666V689M560.5 666V690M564.5 666V690M568.5 666V688M572.5 666V688M576.5 666V687M580.5 666V685M584.5 666V685M588.5 666V685M592.5 666V684M596.5 666V684M600.5 666V684M604.5 666V685M608.5 666V686M612.5 666V688M616.5 666V688M620.5 666V688M624.5 666V687M628.5 666V686M632.5 666V686M636.5 666V684M640.5 666V682M644.5 666V683M648.5 666V683M652.5 666V683M656.5 666V684M660.5 666V688M664.5 666V692M668.5 666V696M672.5 666V698M676.5 666V701M680.5 666V704M684.5 666V707M688.5 666V710M692.5 666V712M696.5 666V712M700.5 666V709M704.5 666V708M708.5 666V711M712.5 666V711M716.5 666V708M720.5 666V707M724.5 666V704M728.5 666V700M732.5 666V700M736.5 666V700M740.5 666V699M744.5 666V698M748.5 666V699M752.5 666V700M756.5 666V697M760.5 666V696M764.5 666V692M768.5 666V690M772.5 666V688M776.5 666V687M780.5 666V687M784.5 666V686M788.5 666V687M792.5 666V687M796.5 666V689M800.5 666V687M804.5 666V684M808.5 666V682M812.5 666V678M816.5 666V676M820.5 666V673M824.5 666V670M828.5 666V669M832.5 666V670M836.5 666V671M840.5 666V671M844.5 666V672M848.5 666V672M852.5 666V672M856.5 666V672M860.5 666V672M864.5 666V671M868.5 666V668M872.5 664V666M876.5 659V666M880.5 655V666M884.5 650V666M888.5 647V666M892.5 646V666M896.5 647V666M900.5 649V666M904.5 651V666M908.5 652V666M912.5 653V666M916.5 656V666M920.5 658V666M924.5 659V666M928.5 660V666M932.5 664V666M936.5 666V667M940.5 666V670M944.5 666V670M948.5 666V671M952.5 666V670M956.5 666V670M960.5 666V669M964.5 666V672M968.5 666V674M972.5 666V677M976.5 666V678M980.5 666V679M984.5 666V681M988.5 666V680M992.5 666V680M996.5 666V679M1000.5 666V674M1004.5 666V671M1008.5 666V668M1012.5 665V666M1016.5 666V666M1024.5 666V669M1028.5 666V674M1032.5 666V678M1036.5 666V676M1040.5 666V673M1044.5 666V669M1048.5 666V667M1060.5 666V666M1068.5 666V667M1084.5 666V666M1088.5 665V666M1096.5 666V668M1100.5 666V671M1104.5 666V673M1108.5 666V674M1112.5 666V677M1116.5 666V680M1120.5 666V686M1124.5 666V690M1128.5 666V693M1132.5 666V695M1136.5 666V697M1140.5 666V697M1144.5 666V699M1148.5 666V698M1152.5 666V697M1156.5 666V697M1160.5 666V697M1164.5 666V698M1168.5 666V698M1172.5 666V697M1176.5 666V697M1180.5 666V695M1184.5 666V692M1188.5 666V690M1192.5 666V687M1196.5 666V684M1200.5 666V683M1204.5 666V684M1208.5 666V685M1212.5 666V685M1216.5 666V684M1220.5 666V686M1224.5 666V687M1228.5 666V687M1232.5 666V685M1236.5 666V684M1240.5 666V682M1244.5 666V678M1248.5 666V676M1252.5 666V675M1256.5 666V673M1260.5 666V671M1264.5 666V669" stroke="#c0c0c0" stroke-width="1" fill="none"/>
<polyline points="4,692.0 8,691.3 12,690.6 16,690.2 20,689.7 24,689.3 28,688.7 32,688.2 36,687.5 40,686.8 44,685.9 48,684.7 52,683.3 56,681.7 60,680.0 64,678.5 68,677.4 72,676.7 76,676.2 80,675.7 84,675.1 88,674.3 92,673.5 96,672.7 100,671.5 104,669.9 108,668.0 112,666.0 116,663.8 120,661.7 124,659.8 128,658.1 132,656.7 136,655.4 140,654.4 144,653.7 148,653.4 152,653.5 156,653.9 160,654.9 164,656.5 168,658.7 172,661.5 176,664.9 180,668.6 184,672.7 188,677.7 192,683.4 196,689.5 200,695.7 204,701.4 208,705.8 212,708.9 216,710.8 220,711.9 224,711.0 228,708.1 232,702.8 236,695.7 240,687.4 244,679.4 248,671.7 252,664.6 256,658.2 260,653.7 264,651.3 268,650.7 272,651.4 276,653.3 280,655.3 284,657.1 288,658.8 292,659.6 296,659.6 300,658.9 304,658.1 308,657.6 312,657.3 316,657.4 320,658.5 324,659.8 328,661.3 332,662.7 336,664.1 340,665.1 344,665.8 348,666.0 352,665.9 356,665.2 360,664.2 364,663.2 368,662.0 372,660.8 376,659.9 380,659.7 384,660.0 388,660.8 392,661.6 396,662.3 400,662.9 404,663.7 408,664.5 412,664.9 416,664.9 420,664.4 424,663.8 428,663.3 432,663.0 436,663.1 440,663.0 444,663.2 448,663.6 452,663.6 456,663.6 460,663.7 464,664.1 468,664.6 472,665.3 476,666.3 480,667.3 484,668.4 488,669.8 492,671.3 496,673.2 500,674.7 504,676.2 508,677.6 512,679.1 516,681.0 520,683.4 524,685.6 528,687.4 532,688.9 536,690.4 540,691.8 544,692.9 548,693.2 552,692.9 556,692.0 560,691.3 564,690.8 568,690.2 572,689.5 576,688.9 580,688.2 584,687.6 588,687.2 592,686.8 596,686.1 600,685.5 604,685.1 608,684.9 612,685.0 616,685.3 620,685.7 624,686.0 628,686.2 632,686.4 636,686.4 640,686.1 644,685.8 648,685.2 652,684.7 656,684.3 660,684.3 664,685.0 668,686.0 672,687.6 676,689.7 680,692.0 684,694.7 688,697.7 692,700.8 696,703.5 700,705.4 704,706.8 708,708.2 712,709.3 716,709.8 720,709.7 724,709.0 728,707.8 732,706.4 736,705.4 740,704.4 744,703.1 748,701.7 752,700.8 756,699.8 760,698.9 764,698.0 768,696.9 772,695.6 776,694.3 780,693.0 784,691.6 788,690.2 792,689.1 796,688.3 800,687.8 804,687.1 808,686.4 812,685.3 816,684.1 820,682.6 824,680.6 828,678.5 832,676.5 836,674.6 840,673.1 844,672.0 848,671.4 852,671.0 856,670.9 860,671.2 864,671.4 868,671.2 872,670.4 876,669.2 880,667.2 884,664.8 888,661.9 892,659.0 896,656.3 900,653.8 904,652.0 908,650.7 912,650.0 916,650.1 920,651.1 924,652.5 928,654.1 932,656.0 936,658.0 940,660.1 944,662.1 948,664.0 952,665.6 956,666.9 960,668.0 964,669.3 968,670.4 972,671.4 976,672.3 980,673.3 984,674.4 988,675.5 992,676.7 996,677.7 1000,678.1 1004,677.7 1008,676.8 1012,675.4 1016,673.9 1020,672.2 1024,671.0 1028,670.3 1032,670.2 1036,670.3 1040,670.5 1044,670.6 1048,670.8 1052,670.9 1056,670.9 1060,670.6 1064,669.7 1068,668.5 1072,667.5 1076,666.8 1080,666.5 1084,666.3 1088,666.2 1092,666.2 1096,666.5 1100,667.1 1104,667.7 1108,668.5 1112,669.7 1116,671.2 1120,673.4 1124,676.1 1128,679.0 1132,682.0 1136,684.9 1140,687.6 1144,690.4 1148,692.7 1152,694.6 1156,695.8 1160,696.7 1164,697.2 1168,697.5 1172,697.5 1176,697.5 1180,697.0 1184,696.4 1188,695.6 1192,694.5 1196,693.0 1200,691.4 1204,689.8 1208,688.4 1212,687.1 1216,685.9 1220,685.3 1224,685.0 1228,685.0 1232,685.1 1236,685.3 1240,685.1 1244,684.3 1248,683.3 1252,682.2 1256,680.7 1260,678.8 1264,676.8 1268,674.8" fill="none" stroke="#ff0000" stroke-width="1" stroke-dasharray="3,3"/>
</g>
<text x="7.5" y="647" font-size="10" letter-spacing="-0.36" fill="#000" shape-rendering="auto">MACD(12,26,9) -0.000076 -0.001594</text>
<g font-size="9.7" fill="#000" stroke="#000" stroke-width="0.2" shape-rendering="auto" letter-spacing="-0.42">
<text x="1600" y="645">0.005818</text><text x="1600" y="670">0.00</text><text x="1600" y="724">-0.011514</text>
</g>
<g font-size="10" fill="#000" shape-rendering="auto" letter-spacing="-0.5">
<rect x="4" y="728" width="1" height="3" fill="#000" shape-rendering="crispEdges"/>
<text x="3" y="740">13 Jan 2020</text>
<rect x="68" y="728" width="1" height="3" fill="#000" shape-rendering="crispEdges"/>
<text x="67" y="740">31 Jan 2020</text>
<rect x="132" y="728" width="1" height="3" fill="#000" shape-rendering="crispEdges"/>
<text x="131" y="740">19 Feb 2020</text>
<rect x="196" y="728" width="1" height="3" fill="#000" shape-rendering="crispEdges"/>
<text x="195" y="740">9 Mar 2020</text>
<rect x="260" y="728" width="1" height="3" fill="#000" shape-rendering="crispEdges"/>
<text x="259" y="740">27 Mar 2020</text>
<rect x="324" y="728" width="1" height="3" fill="#000" shape-rendering="crispEdges"/>
<text x="323" y="740">15 Apr 2020</text>
<rect x="388" y="728" width="1" height="3" fill="#000" shape-rendering="crispEdges"/>
<text x="387" y="740">4 May 2020</text>
<rect x="452" y="728" width="1" height="3" fill="#000" shape-rendering="crispEdges"/>
<text x="451" y="740">22 May 2020</text>
<rect x="516" y="728" width="1" height="3" fill="#000" shape-rendering="crispEdges"/>
<text x="515" y="740">10 Jun 2020</text>
<rect x="580" y="728" width="1" height="3" fill="#000" shape-rendering="crispEdges"/>
<text x="579" y="740">29 Jun 2020</text>
<rect x="644" y="728" width="1" height="3" fill="#000" shape-rendering="crispEdges"/>
<text x="643" y="740">17 Jul 2020</text>
<rect x="708" y="728" width="1" height="3" fill="#000" shape-rendering="crispEdges"/>
<rect x="772" y="728" width="1" height="3" fill="#000" shape-rendering="crispEdges"/>
<text x="771" y="740">24 Aug 2020</text>
<rect x="836" y="728" width="1" height="3" fill="#000" shape-rendering="crispEdges"/>
<text x="835" y="740">11 Sep 2020</text>
<rect x="900" y="728" width="1" height="3" fill="#000" shape-rendering="crispEdges"/>
<text x="899" y="740">30 Sep 2020</text>
<rect x="964" y="728" width="1" height="3" fill="#000" shape-rendering="crispEdges"/>
<text x="963" y="740">19 Oct 2020</text>
<rect x="1028" y="728" width="1" height="3" fill="#000" shape-rendering="crispEdges"/>
<text x="1027" y="740">6 Nov 2020</text>
<rect x="1092" y="728" width="1" height="3" fill="#000" shape-rendering="crispEdges"/>
<text x="1091" y="740">25 Nov 2020</text>
<rect x="1156" y="728" width="1" height="3" fill="#000" shape-rendering="crispEdges"/>
<text x="1155" y="740">14 Dec 2020</text>
<rect x="1220" y="728" width="1" height="3" fill="#000" shape-rendering="crispEdges"/>
<text x="1219" y="740">4 Jan 2021</text>
</g>
<rect x="694" y="731" width="75" height="11" fill="#000"/>
<rect x="732" y="728" width="1" height="3" fill="#000"/><rect x="708" y="728" width="1" height="3" fill="#000"/>
<text x="697.5" y="740" font-size="10" fill="#fff" letter-spacing="-0.37" shape-rendering="auto">2020.08.12 0:00</text>
<rect x="1" y="748" width="1636" height="1" fill="#e3e3e3"/>
<rect x="0" y="749" width="1637" height="22" fill="#f0f0f0"/>
<rect x="0" y="750" width="1637" height="1" fill="#000"/>
<rect x="0" y="769" width="1637" height="2" fill="#e8e8e8"/>
<rect x="110" y="749" width="99" height="19" fill="#fff"/>
<rect x="109" y="750" width="1" height="18" fill="#000"/><rect x="208" y="750" width="1" height="18" fill="#000"/><rect x="109" y="767" width="100" height="1" fill="#000"/>
<rect x="0" y="748" width="1" height="23" fill="#8a8a8a"/>
<g font-size="12" fill="#6d6d6d" shape-rendering="auto">
<text x="17.5" y="765">EURUSD,Daily</text>
<text x="220.5" y="765">AUDUSD,Daily</text>
<text x="324.4" y="765">USDCAD,Daily</text>
<text x="427.5" y="765">USDCNH,Daily</text>
<text x="533.5" y="765">EURUSD,Daily</text>
<text x="637.2" y="765">GBPUSD,H4</text>
<text x="728.3" y="765">XAUUSD,H4</text>
<text x="820.6" y="765">HK50,H1</text>
<text x="892.5" y="765">UK100,H1</text>
<text x="972.5" y="765">UK100,H1</text>
<text x="1052.6" y="765">GER30,H1</text>
<text x="1131.3" y="765">FRA40,H1</text>
<text x="1208.3" y="765">USOil,Weekly</text>
<text x="1307.3" y="765">USDJPY,H1</text>
<text x="1391.2" y="765">DJ30,Daily</text>
<text x="1471.4" y="765">CHINA300,H1</text>
<text x="1571.1" y="765">USOil,</text>
</g>
<rect x="313" y="754" width="1" height="13" fill="#808080"/>
<rect x="418" y="754" width="1" height="13" fill="#808080"/>
<rect x="521" y="754" width="1" height="13" fill="#808080"/>
<rect x="626" y="754" width="1" height="13" fill="#808080"/>
<rect x="717" y="754" width="1" height="13" fill="#808080"/>
<rect x="810" y="754" width="1" height="13" fill="#808080"/>
<rect x="881" y="754" width="1" height="13" fill="#808080"/>
<rect x="962" y="754" width="1" height="13" fill="#808080"/>
<rect x="1042" y="754" width="1" height="13" fill="#808080"/>
<rect x="1121" y="754" width="1" height="13" fill="#808080"/>
<rect x="1197" y="754" width="1" height="13" fill="#808080"/>
<rect x="1297" y="754" width="1" height="13" fill="#808080"/>
<rect x="1381" y="754" width="1" height="13" fill="#808080"/>
<rect x="1461" y="754" width="1" height="13" fill="#808080"/>
<rect x="1561" y="754" width="1" height="13" fill="#808080"/>
<text x="119.5" y="765" font-size="12" fill="#000" shape-rendering="auto">USDCHF,Daily</text>
<path d="M1614 757 L1614 765 L1610 761Z" fill="#a0a0a0" shape-rendering="auto"/><path d="M1630 757 L1630 765 L1634 761Z" fill="#000" shape-rendering="auto"/>
</svg></body></html>
